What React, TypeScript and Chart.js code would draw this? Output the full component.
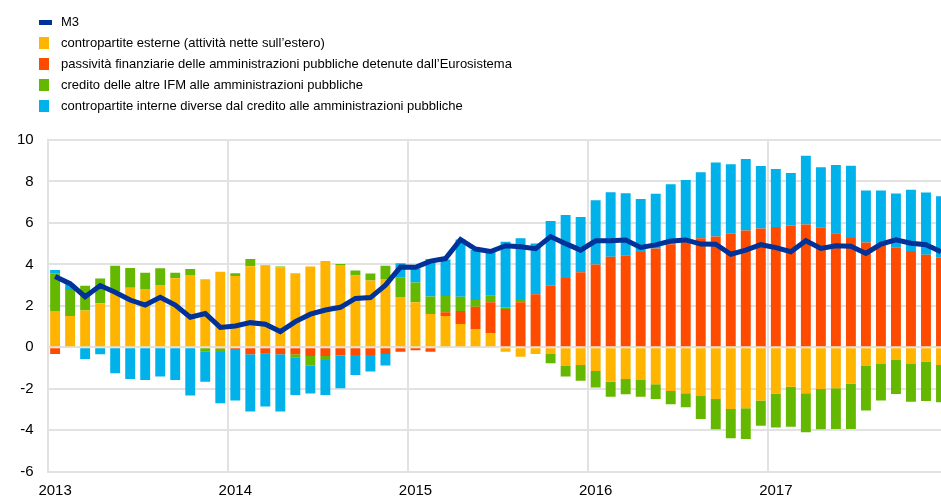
import React, { useEffect, useRef } from 'react';
import { Chart, registerables } from 'chart.js';

Chart.register(...registerables);

const years = ['2013', '2014', '2015', '2016', '2017'];
const monthCodes = ['01', '02', '03', '04', '05', '06', '07', '08', '09', '10', '11', '12'];
const categories = years.flatMap((y) => monthCodes.map((m) => `${y}-${m}`));

const m3 = [
  3.42, 3.07, 2.44, 2.98, 2.66, 2.28, 2.04, 2.41, 2.04, 1.45, 1.63, 0.96,
  1.03, 1.19, 1.11, 0.76, 1.24, 1.6, 1.8, 1.93, 2.36, 2.4, 3.0, 3.87,
  3.86, 4.16, 4.28, 5.2, 4.74, 4.62, 4.9, 4.85, 4.76, 5.34, 5.0, 4.69,
  5.14, 5.14, 5.18, 4.82, 4.94, 5.13, 5.18, 4.98, 4.97, 4.49, 4.69, 4.95,
  4.81, 4.61, 5.14, 4.77, 4.9, 4.87, 4.53, 4.98, 5.18, 5.02, 4.95, 4.61,
];

const external = [
  1.75, 1.51, 1.78, 2.13, 2.7, 2.87, 2.81, 3.0, 3.33, 3.49, 3.28, 3.65,
  3.44, 3.91, 3.94, 3.86, 3.57, 3.9, 4.16, 3.97, 3.46, 3.22, 3.3, 2.43,
  2.17, 1.61, 1.51, 1.13, 0.88, 0.68, -0.21, -0.45, -0.32, -0.32, -0.9, -0.85,
  -1.14, -1.66, -1.53, -1.58, -1.78, -2.11, -2.22, -2.35, -2.49, -2.97, -2.94, -2.57,
  -2.23, -1.9, -2.22, -2.01, -1.98, -1.75, -0.9, -0.8, -0.61, -0.8, -0.69, -0.85,
];

const eurosystem = [
  -0.32, -0.05, 0, 0, 0, 0, 0, 0, 0, 0, 0, -0.06,
  -0.08, -0.34, -0.31, -0.34, -0.34, -0.42, -0.42, -0.4, -0.37, -0.37, -0.32, -0.21,
  -0.14, -0.21, 0.18, 0.62, 1.08, 1.49, 1.85, 2.17, 2.56, 2.97, 3.34, 3.62,
  4.0, 4.37, 4.42, 4.6, 4.77, 4.97, 5.23, 5.26, 5.34, 5.48, 5.63, 5.73,
  5.8, 5.87, 5.93, 5.77, 5.5, 5.27, 5.05, 4.93, 4.8, 4.65, 4.47, 4.32,
];

const mfiCredit = [
  1.82, 1.25, 1.19, 1.19, 1.24, 0.95, 0.79, 0.81, 0.27, 0.29, -0.19, -0.17,
  0.13, 0.35, 0.02, 0.04, -0.14, -0.47, -0.19, 0.05, 0.24, 0.34, 0.64, 0.93,
  0.96, 0.84, 0.78, 0.69, 0.32, 0.32, 0.08, 0.11, 0, -0.45, -0.51, -0.76,
  -0.8, -0.72, -0.74, -0.8, -0.71, -0.64, -0.67, -1.11, -1.46, -1.42, -1.48, -1.21,
  -1.64, -1.93, -1.88, -1.94, -1.96, -2.19, -2.15, -1.77, -1.64, -1.82, -1.9, -1.8,
];

const otherDomestic = [
  0.16, 0.28, -0.56, -0.34, -1.25, -1.53, -1.58, -1.41, -1.58, -2.33, -1.47, -2.47,
  -2.48, -2.76, -2.55, -2.76, -1.82, -1.34, -1.69, -1.58, -0.96, -0.8, -0.56, 0.69,
  0.68, 1.81, 1.77, 2.76, 2.41, 2.12, 3.16, 2.98, 2.45, 3.12, 3.04, 2.67,
  3.09, 3.11, 3.01, 2.55, 2.64, 2.89, 2.84, 3.18, 3.58, 3.35, 3.45, 3.02,
  2.8, 2.54, 3.31, 2.91, 3.29, 3.49, 2.52, 2.64, 2.62, 2.95, 3.0, 2.97,
];

const seriesNames = [
  'M3',
  'contropartite esterne (attività nette sull’estero)',
  'passività finanziarie delle amministrazioni pubbliche detenute dall’Eurosistema',
  'credito delle altre IFM alle amministrazioni pubbliche',
  'contropartite interne diverse dal credito alle amministrazioni pubbliche',
];
const seriesColors = ['#003299', '#FFB400', '#FF4B00', '#65B800', '#00B1EA'];

const FONT = '"Liberation Sans", Arial, Helvetica, sans-serif';
const GRID = '#e2e2e2';

export default function App() {
  const canvasRef = useRef<HTMLCanvasElement | null>(null);

  useEffect(() => {
    if (!canvasRef.current) return;
    const barSets = [external, eurosystem, mfiCredit, otherDomestic].map((d, i) => ({
      type: 'bar' as const,
      label: seriesNames[i + 1],
      data: d,
      backgroundColor: seriesColors[i + 1],
      borderWidth: 0,
      barPercentage: 0.66,
      categoryPercentage: 1,
      stack: 'bars',
      order: 1,
    }));
    const chart = new Chart(canvasRef.current, {
      type: 'bar',
      data: {
        labels: categories,
        datasets: [
          {
            type: 'line' as const,
            label: seriesNames[0],
            data: m3,
            borderColor: seriesColors[0],
            backgroundColor: seriesColors[0],
            borderWidth: 5,
            pointRadius: 0,
            tension: 0,
            fill: false,
            stack: 'line',
            order: 0,
          } as any,
          ...barSets,
        ],
      },
      options: {
        animation: false,
        responsive: false,
        devicePixelRatio: 1,
        layout: { padding: { top: 140, left: 0, right: 0, bottom: 0 } },
        plugins: { legend: { display: false }, tooltip: { enabled: false } },
        scales: {
          x: {
            stacked: true,
            offset: true,
            afterFit: (s: any) => {
              s.height = 25.3;
            },
            grid: {
              offset: true,
              drawTicks: false,
              lineWidth: 2,
              color: (ctx: any) =>
                typeof ctx.index === 'number' && ctx.index % 12 === 0 ? GRID : 'rgba(0,0,0,0)',
            },
            border: { display: false },
            ticks: {
              autoSkip: false,
              maxRotation: 0,
              minRotation: 0,
              padding: 10,
              color: '#000',
              font: { family: FONT, size: 15 },
              callback: (_v: any, i: number) => (i % 12 === 0 ? categories[i].slice(0, 4) : ''),
            },
          },
          y: {
            stacked: true,
            min: -6,
            max: 10,
            afterFit: (s: any) => {
              s.width = 47.6;
            },
            grid: { drawTicks: false, lineWidth: 2, color: GRID },
            border: { display: true, color: GRID, width: 2 },
            ticks: {
              stepSize: 2,
              padding: 14,
              color: '#000',
              font: { family: FONT, size: 15 },
            },
          },
        },
      },
    });
    return () => chart.destroy();
  }, []);

  return (
    <div
      style={{
        position: 'fixed',
        left: 0,
        top: 0,
        width: 941,
        height: 497,
        overflow: 'hidden',
        background: '#fff',
        fontFamily: FONT,
      }}
    >
      <canvas ref={canvasRef} width={951} height={497} style={{ position: 'absolute', left: 0, top: 0 }} />
      {seriesNames.map((name, i) => {
        const cy = 22 + i * 21.1;
        return (
          <div
            key={name}
            style={{
              position: 'absolute',
              left: 0,
              top: cy - 8,
              height: 16,
              lineHeight: '16px',
              fontSize: 13,
              color: '#000',
              whiteSpace: 'nowrap',
            }}
          >
            <span
              style={{
                position: 'absolute',
                left: 39,
                top: i === 0 ? 6 : 2,
                width: i === 0 ? 13 : 10,
                height: i === 0 ? 5 : 12,
                background: seriesColors[i],
              }}
            />
            <span style={{ position: 'absolute', left: 61, top: 0 }}>{name}</span>
          </div>
        );
      })}
    </div>
  );
}
